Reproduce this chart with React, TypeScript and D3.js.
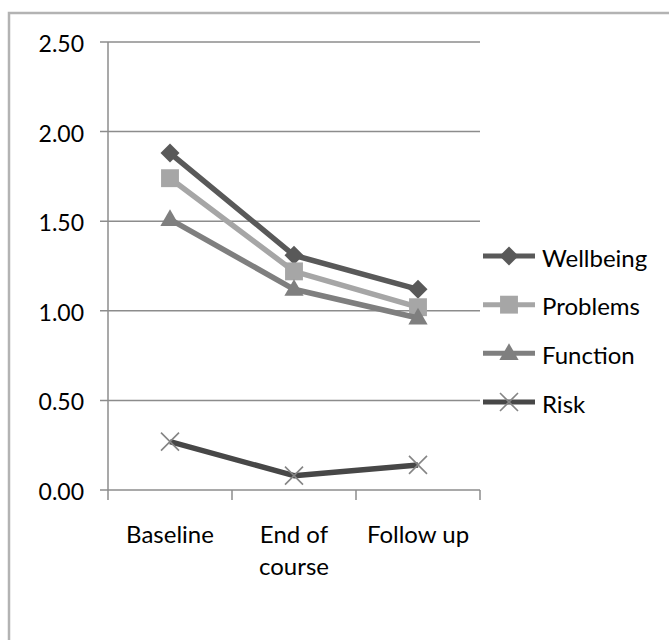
import React from 'react';
import * as d3 from 'd3';

// categories on the x axis
const categories = ['Baseline', 'End of course', 'Follow up'];
const categoryLines = [['Baseline'], ['End of', 'course'], ['Follow up']];

// series values
const seriesNames = ['Wellbeing', 'Problems', 'Function', 'Risk'];
const wellbeing = [1.88, 1.31, 1.12];
const problems = [1.74, 1.22, 1.02];
const functionScores = [1.51, 1.12, 0.96];
const risk = [0.27, 0.08, 0.14];

const yTicks = [0, 0.5, 1.0, 1.5, 2.0, 2.5];

const W = 669;
const H = 640;
const FONT = 'Lato, "Open Sans", sans-serif';

type Marker = 'diamond' | 'square' | 'triangle' | 'x';

const series = [
  { name: seriesNames[0], values: wellbeing, color: '#595959', marker: 'diamond' as Marker, markerColor: '#595959' },
  { name: seriesNames[1], values: problems, color: '#a6a6a6', marker: 'square' as Marker, markerColor: '#a6a6a6' },
  { name: seriesNames[2], values: functionScores, color: '#7f7f7f', marker: 'triangle' as Marker, markerColor: '#7f7f7f' },
  { name: seriesNames[3], values: risk, color: '#474747', marker: 'x' as Marker, markerColor: '#858585' },
];

const symbolPath = (m: Marker) => {
  if (m === 'diamond') return d3.symbol(d3.symbolSquare, 180)() || '';
  if (m === 'square') return d3.symbol(d3.symbolSquare, 320)() || '';
  if (m === 'triangle') return d3.symbol(d3.symbolTriangle, 160)() || '';
  return 'M-9,-9L9,9M-9,9L9,-9';
};

const MarkerShape: React.FC<{ m: Marker; x: number; y: number; color: string }> = ({ m, x, y, color }) => {
  const rot = m === 'diamond' ? ' rotate(45)' : '';
  const dy = m === 'triangle' ? 1 : 0;
  if (m === 'x') {
    return <path d={symbolPath(m)} transform={`translate(${x},${y})`} fill="none" stroke={color} strokeWidth={1.6} />;
  }
  return <path d={symbolPath(m)} transform={`translate(${x},${y + dy})${rot}`} fill={color} />;
};

export default function App() {
  const x = d3.scaleBand<string>().domain(categories).range([108, 480]).paddingInner(0).paddingOuter(0);
  const y = d3.scaleLinear().domain([0, 2.5]).range([490, 42]);
  const cx = (c: string) => (x(c) || 0) + x.bandwidth() / 2;

  const line = d3
    .line<number>()
    .x((_, i) => cx(categories[i]))
    .y(d => y(d));

  const xTickPos = [...categories.map(c => x(c) || 0), 480];

  const legendX = 483;
  const legendY = d3.scaleLinear().domain([0, 3]).range([256, 402]);

  return (
    <svg width={W} height={H} style={{ position: 'absolute', left: 0, top: 0, background: '#fff' }} fontFamily={FONT}>
      {/* chart area border (only top and left visible) */}
      <rect x={9} y={13} width={800} height={800} fill="none" stroke="#b3b3b3" strokeWidth={2.5} />

      {/* gridlines */}
      {yTicks.map(t => (
        <line key={'g' + t} x1={100} x2={480} y1={y(t)} y2={y(t)} stroke="#8c8c8c" strokeWidth={1.5} />
      ))}
      {/* y axis */}
      <line x1={108} x2={108} y1={y(2.5)} y2={y(0)} stroke="#8c8c8c" strokeWidth={1.5} />
      {yTicks.map(t => (
        <text key={'yl' + t} x={84} y={y(t) + 1} textAnchor="end" dominantBaseline="central" fontSize={23} fill="#000">
          {t.toFixed(2)}
        </text>
      ))}
      {/* x axis ticks */}
      {xTickPos.map((p, i) => (
        <line key={'xt' + i} x1={p} x2={p} y1={y(0)} y2={y(0) + 10} stroke="#8c8c8c" strokeWidth={1.5} />
      ))}
      {categories.map((c, i) =>
        categoryLines[i].map((ln, j) => (
          <text key={c + j} x={cx(c)} y={543 + j * 32} textAnchor="middle" fontSize={24} fill="#000">
            {ln}
          </text>
        ))
      )}

      {/* series */}
      {series.map(s => (
        <g key={s.name}>
          <path d={line(s.values) || ''} fill="none" stroke={s.color} strokeWidth={5.5} strokeLinejoin="round" />
          {s.values.map((v, i) => (
            <MarkerShape key={i} m={s.marker} x={cx(categories[i])} y={y(v)} color={s.markerColor} />
          ))}
        </g>
      ))}

      {/* legend */}
      {series.map((s, i) => (
        <g key={'lg' + s.name}>
          <line x1={legendX} x2={legendX + 52} y1={legendY(i)} y2={legendY(i)} stroke={s.color} strokeWidth={5} />
          <MarkerShape m={s.marker} x={legendX + 26} y={legendY(i)} color={s.markerColor} />
          <text x={542} y={legendY(i) + 1} dominantBaseline="central" fontSize={24} fill="#000">
            {s.name}
          </text>
        </g>
      ))}
    </svg>
  );
}
